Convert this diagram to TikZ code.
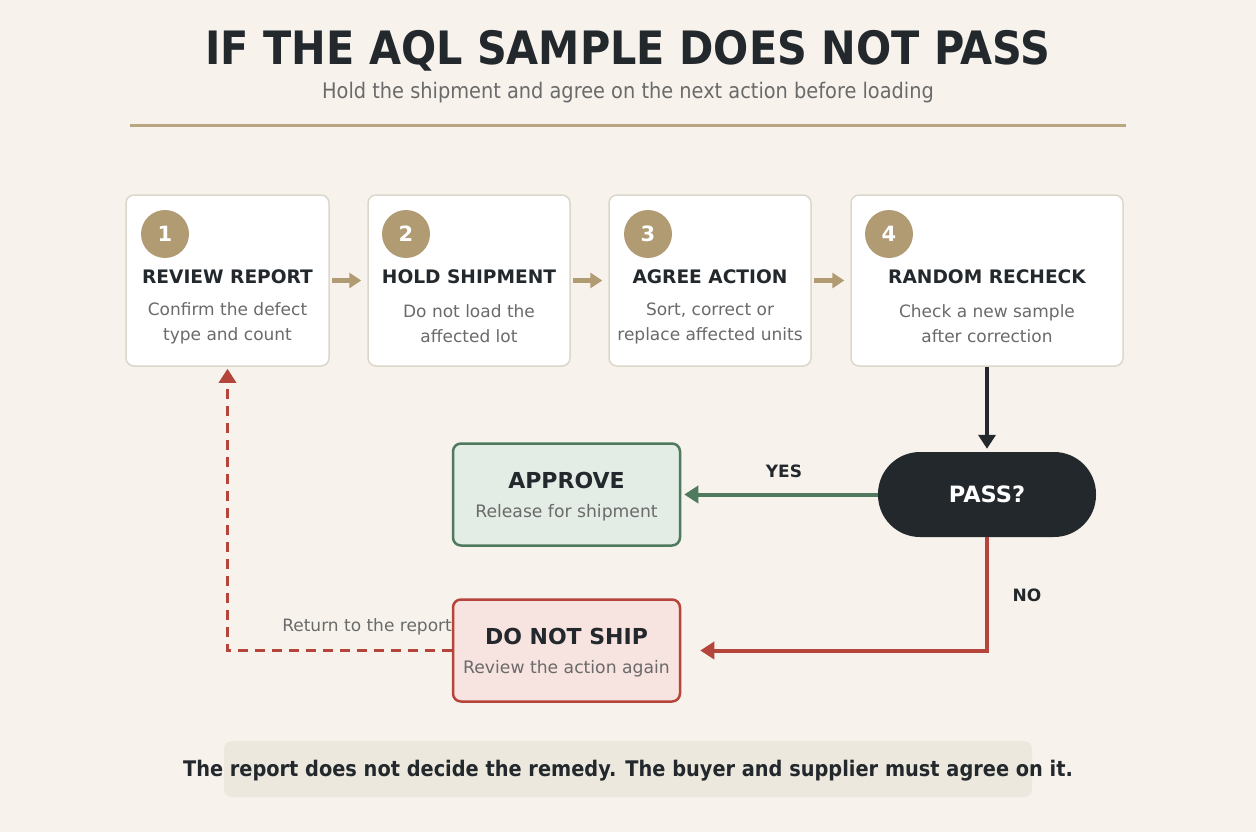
\documentclass[tikz,border=0pt]{standalone}
\usepackage{fontspec}
\setmainfont{DejaVu Sans}
\newfontfamily\condensed[FakeStretch=0.9]{DejaVu Sans}
\usepackage{xcolor}
\usepackage{tikz}
\usetikzlibrary{positioning,arrows.meta,calc,backgrounds}
\definecolor{paper}{HTML}{F7F3EC}
\definecolor{ink}{HTML}{23282D}
\definecolor{muted}{HTML}{6A6A6A}
\definecolor{tan}{HTML}{B19B73}
\definecolor{edge}{HTML}{DCD7CB}
\definecolor{okgreen}{HTML}{4F7A5E}
\definecolor{okfill}{HTML}{E3ECE5}
\definecolor{nored}{HTML}{B5443A}
\definecolor{nofill}{HTML}{F7E3DF}
\definecolor{notefill}{HTML}{ECE8DD}

\begin{document}
\begin{tikzpicture}[x=1pt, y=-1pt,
    stepbox/.style={rectangle, draw=edge, line width=1.5pt, fill=white, rounded corners=8pt, minimum height=171pt},
    num/.style={circle, fill=tan, minimum size=48pt, inner sep=0pt, text=white, font=\bfseries\fontsize{21}{21}\selectfont},
    steptitle/.style={text=ink, inner sep=0pt, font=\bfseries\fontsize{18.6}{20}\selectfont},
    stepdesc/.style={text=muted, align=center, inner sep=0pt, font=\fontsize{17}{25}\selectfont},
    outbox/.style={rectangle, rounded corners=8pt, line width=2.5pt, minimum width=227pt, minimum height=102pt},
    boxtitle/.style={text=ink, inner sep=0pt, font=\bfseries\fontsize{22}{24}\selectfont},
    boxdesc/.style={text=muted, inner sep=0pt, font=\fontsize{17.2}{20}\selectfont},
    flowlabel/.style={text=ink, inner sep=0pt, font=\bfseries\fontsize{17}{18}\selectfont},
    steparr/.style={-{Triangle[length=12pt,width=15pt]}, tan, line width=5pt, shorten >=6pt, shorten <=2pt},
    arr/.style={-{Triangle[length=14pt,width=17pt]}, line width=4pt}
  ]
    % background and frame
    \fill[paper] (0,0) rectangle (1256,832);
    \useasboundingbox (0,0) rectangle (1256,832);

    % heading
    \node[text=ink, inner sep=0pt, font=\condensed\bfseries\fontsize{46}{48}\selectfont] (title) at (628,51) {IF THE AQL SAMPLE DOES NOT PASS};
    \node[text=muted, inner sep=0pt, font=\condensed\fontsize{21.5}{23}\selectfont] (subtitle) at (628,93) {Hold the shipment and agree on the next action before loading};
    \coordinate (ruleL) at (130,126);
    \coordinate (ruleR) at (1126,126);
    \draw[tan!90!white, line width=3pt] (ruleL) -- (ruleR);

    % the four steps
    \node[stepbox, minimum width=203pt] (s1) at (227.5,280.5) {};
    \node[stepbox, minimum width=202pt] (s2) at (469,280.5) {};
    \node[stepbox, minimum width=202pt] (s3) at (710,280.5) {};
    \node[stepbox, minimum width=272pt] (s4) at (987,280.5) {};

    \node[num] (n1) at (165,234) {1};
    \node[num] (n2) at (406,234) {2};
    \node[num] (n3) at (648,234) {3};
    \node[num] (n4) at (889,234) {4};

    \node[steptitle] (t1) at (227.5,277) {REVIEW REPORT};
    \node[steptitle] (t2) at (469,277) {HOLD SHIPMENT};
    \node[steptitle] (t3) at (710,277) {AGREE ACTION};
    \node[steptitle] (t4) at (987,277) {RANDOM RECHECK};

    \node[stepdesc] (d1) at (227.5,323.5) {Confirm the defect\\type and count};
    \node[stepdesc] (d2) at (469,323.5) {Do not load the\\affected lot};
    \node[stepdesc] (d3) at (710,323.5) {Sort, correct or\\replace affected units};
    \node[stepdesc] (d4) at (987,323.5) {Check a new sample\\after correction};

    \draw[steparr] (s1) -- (s2);
    \draw[steparr] (s2) -- (s3);
    \draw[steparr] (s3) -- (s4);

    % decision
    \node[rectangle, rounded corners=42pt, fill=ink, minimum width=218pt, minimum height=85pt, text=white, font=\bfseries\fontsize{22.5}{24}\selectfont] (pass) at (987,494.5) {PASS?};
    \draw[arr, ink, shorten >=3pt] (s4) -- (pass);

    % outcomes
    \node[outbox, draw=okgreen, fill=okfill] (approve) at (566.5,494.5) {};
    \node[boxtitle] (at) at (566.5,480) {APPROVE};
    \node[boxdesc] (ad) at (566.5,513) {Release for shipment};

    \node[outbox, draw=nored, fill=nofill] (noship) at (566.5,650.5) {};
    \node[boxtitle] (nt) at (566.5,636) {DO NOT SHIP};
    \node[boxdesc] (nd) at (566.5,669) {Review the action again};

    \draw[arr, okgreen, shorten >=3pt] (pass) -- (approve);
    \node[flowlabel] (yes) at (784,471) {YES};

    \draw[arr, nored, shorten >=19pt] (pass.south) |- (noship.east);
    \node[flowlabel] (no) at (1027,595) {NO};

    % back to the report
    \draw[-{Triangle[length=14pt,width=17pt]}, nored, line width=3pt, dash pattern=on 10pt off 7pt, shorten >=2pt] (noship.west) -| (s1.south);
    \node[text=muted, inner sep=0pt, anchor=east, font=\fontsize{17}{18}\selectfont] (back) at (452,627) {Return to the report};

    % note
    \node[rectangle, rounded corners=8pt, fill=notefill, minimum width=808pt, minimum height=56pt] (notebox) at (628,769) {};
    \node[text=ink, inner sep=0pt, font=\condensed\bfseries\fontsize{21.5}{23}\selectfont] (note) at (628,771) {The report does not decide the remedy. The buyer and supplier must agree on it.};
  \end{tikzpicture}
\end{document}
